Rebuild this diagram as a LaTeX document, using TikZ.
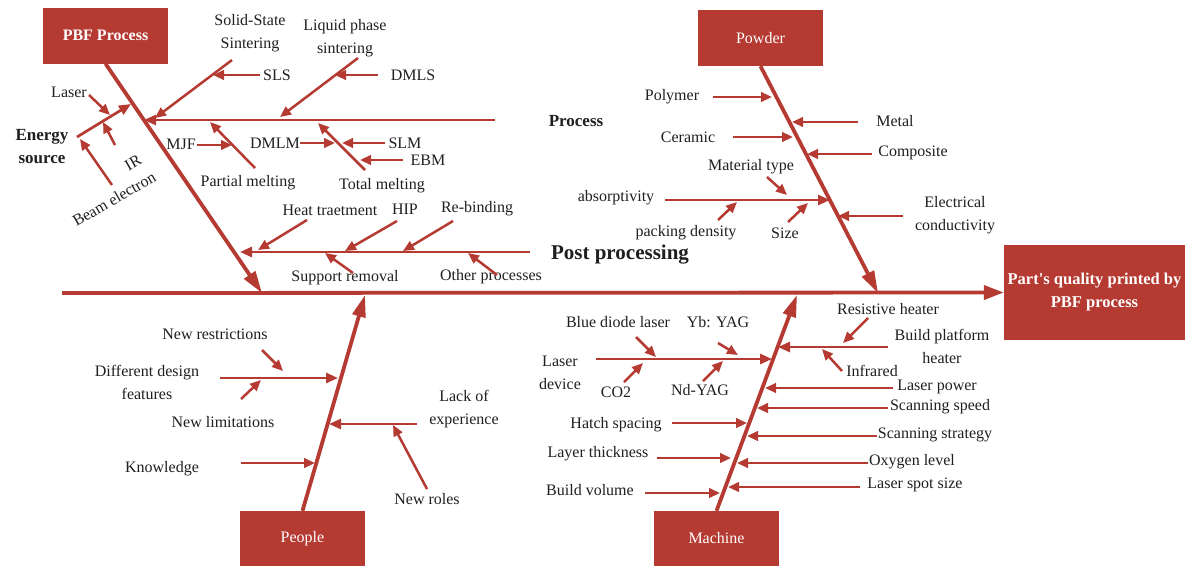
\documentclass[tikz,border=0pt]{standalone}
\usepackage{fontspec}
\setmainfont{Liberation Serif}
\usetikzlibrary{arrows.meta}
\definecolor{fishred}{RGB}{180,58,50}

\begin{document}
\begin{tikzpicture}[x=1pt, y=-1pt,
	every node/.style={font=\fontsize{16}{23}\selectfont, inner sep=0pt, text=black!88},
	catbox/.style={fill=fishred, text=white, minimum width=125pt, minimum height=56pt},
	bone/.style={draw=fishred, line width=3.8pt, -{Triangle[length=22pt,width=13pt]}},
	branch/.style={draw=fishred, line width=2.7pt, -{Triangle[length=12pt,width=10pt]}},
	twig/.style={draw=fishred, line width=2.5pt, -{Triangle[length=11pt,width=9.5pt]}},
	head/.style={font=\fontsize{17}{23}\selectfont\bfseries}]
	\useasboundingbox (0,0) rectangle (1185,566);
	% category boxes and effect
	\node[catbox, font=\fontsize{16}{23}\selectfont\bfseries] (pbf) at (105.5,35.5) {PBF Process};
	\node[catbox] (powder) at (760.5,38) {Powder};
	\node[catbox, minimum height=55pt] (people) at (302.5,538.5) {People};
	\node[catbox, minimum height=55pt] (machine) at (716.5,538.5) {Machine};
	\node[catbox, minimum width=181pt, minimum height=95pt, align=center, font=\fontsize{16.5}{23}\selectfont\bfseries] (quality) at (1094.5,292.5) {Part\textquotesingle s quality printed by\\PBF process};
	% spine and main bones
	\coordinate (tail) at (62,293);
	\coordinate (pbfend) at (262,293);
	\coordinate (powend) at (878,293);
	\coordinate (peoend) at (365,295);
	\coordinate (macend) at (797,295);
	\draw[bone, -{Triangle[length=20pt,width=14pt]}] (tail) -- (quality.west);
	\draw[bone] (pbf.south) -- (pbfend);
	\draw[bone] (powder.south) -- (powend);
	\draw[bone] (people.north) -- (peoend);
	\draw[bone] (machine.north) -- (macend);

	% PBF process
	\draw[branch] (495,120) -- (144,120);
	\node[head] (process) at (576,121) {Process};
	\draw[branch] (77,137) -- (131,104);
	\node[head, align=center] (energy) at (42,147) {Energy\\source};
	\node (laser) at (69,92) {Laser};
	\draw[twig] (89,95) -- (110,115);
	\draw[twig] (115,145) -- (103,122);
	\draw[twig] (112,185) -- (80,139);
	\node[rotate=30] (ir) at (133,163) {IR};
	\node[rotate=30] (beam) at (114,199) {Beam electron};
	\node[align=center] (solid) at (250,33.5) {Solid-State\\Sintering};
	\draw[twig] (232,60) -- (155,118);
	\node (sls) at (277,75) {SLS};
	\draw[twig] (260,75) -- (213,75);
	\node[align=center] (liquid) at (345,38.5) {Liquid phase\\sintering};
	\draw[twig] (358,58) -- (280,117);
	\node (dmls) at (413,75) {DMLS};
	\draw[twig] (378,75) -- (335,75);
	\node (mjf) at (181,144) {MJF};
	\draw[twig] (197,145) -- (232,145);
	\node (partial) at (248,183) {Partial melting};
	\draw[twig] (255,168) -- (210,122);
	\node (dmlm) at (275,143) {DMLM};
	\draw[twig] (300,143) -- (335,143);
	\node (slm) at (405,143) {SLM};
	\draw[twig] (385,143) -- (342,143);
	\node (total) at (382,186) {Total melting};
	\draw[twig] (365,170) -- (318,123);
	\node (ebm) at (428,160) {EBM};
	\draw[twig] (403,160) -- (360,160);

	% post processing
	\draw[branch] (530,252) -- (240,252);
	\node[head, font=\fontsize{21}{23}\selectfont\bfseries] (post) at (620,255) {Post processing};
	\node (heat) at (330,210) {Heat traetment};
	\draw[twig] (307,220) -- (258,250);
	\node (hip) at (405,209) {HIP};
	\draw[twig] (397,221) -- (345,251);
	\node (rebind) at (477,209) {Re-binding};
	\draw[twig] (453,221) -- (403,251);
	\node (support) at (345,278) {Support removal};
	\draw[twig] (353,273) -- (325,253);
	\node (other) at (491,277) {Other processes};
	\draw[twig] (497,275) -- (468,253);

	% powder
	\node (polymer) at (672,97) {Polymer};
	\draw[twig] (713,97) -- (772,97);
	\node (metal) at (895,121) {Metal};
	\draw[twig] (858,122) -- (792,122);
	\node (ceramic) at (688,137) {Ceramic};
	\draw[twig] (733,137) -- (793,137);
	\node (composite) at (913,153) {Composite};
	\draw[twig] (872,154) -- (807,154);
	\node (mattype) at (751,167) {Material type};
	\draw[twig] (767,177) -- (787,195);
	\node (absorp) at (616,198) {absorptivity};
	\draw[branch] (665,200) -- (830,200);
	\node (packing) at (686,233) {packing density};
	\draw[twig] (718,220) -- (737,202);
	\node (size) at (785,233) {Size};
	\draw[twig] (788,222) -- (808,203);
	\node[align=center] (elec) at (955,215.5) {Electrical\\conductivity};
	\draw[twig] (903,216) -- (838,216);

	% people
	\node[align=center] (design) at (147,382.5) {Different design\\features};
	\draw[branch] (220,378) -- (338,378);
	\node (restrict) at (215,334) {New restrictions};
	\draw[twig] (262,350) -- (283,371);
	\node (limit) at (223,422) {New limitations};
	\draw[twig] (241,399) -- (261,380);
	\node (know) at (162,469) {Knowledge};
	\draw[twig] (241,463) -- (315,463);
	\node[align=center] (lack) at (464,409) {Lack of\\experience};
	\draw[branch] (417,424) -- (329,424);
	\node (roles) at (427,499) {New roles};
	\draw[twig] (427,489) -- (393,425);

	% machine
	\node[align=center] (device) at (560,373) {Laser\\device};
	\draw[branch] (596,359) -- (772,359);
	\node (blue) at (618,322) {Blue diode laser};
	\draw[twig] (636,337) -- (656,357);
	\node (yb) at (718,322) {Yb: YAG};
	\draw[twig] (718,343) -- (738,355);
	\node (co2) at (616,392) {CO2};
	\draw[twig] (624,382) -- (643,363);
	\node (nd) at (700,390) {Nd-YAG};
	\draw[twig] (703,381) -- (723,361);
	\node (hatch) at (616,425) {Hatch spacing};
	\draw[twig] (672,423) -- (747,423);
	\node (layer) at (598,454) {Layer thickness};
	\draw[twig] (657,458) -- (731,458);
	\node (volume) at (590,490) {Build volume};
	\draw[twig] (645,493) -- (720,493);
	\node (resist) at (888,309) {Resistive heater};
	\draw[twig] (868,318) -- (843,343);
	\node[align=center] (platform) at (942,346.5) {Build platform\\heater};
	\draw[branch] (888,347) -- (778,347);
	\node (infra) at (872,371) {Infrared};
	\draw[twig] (842,371) -- (822,349);
	\node (power) at (937,387) {Laser power};
	\draw[twig] (893,388) -- (765,388);
	\node (speed) at (940,407) {Scanning speed};
	\draw[twig] (888,408) -- (757,408);
	\node (strategy) at (935,435) {Scanning strategy};
	\draw[twig] (877,436) -- (747,436);
	\node (oxygen) at (912,462) {Oxygen level};
	\draw[twig] (868,463) -- (737,463);
	\node (spot) at (915,485) {Laser spot size};
	\draw[twig] (860,487) -- (728,487);
\end{tikzpicture}
\end{document}
